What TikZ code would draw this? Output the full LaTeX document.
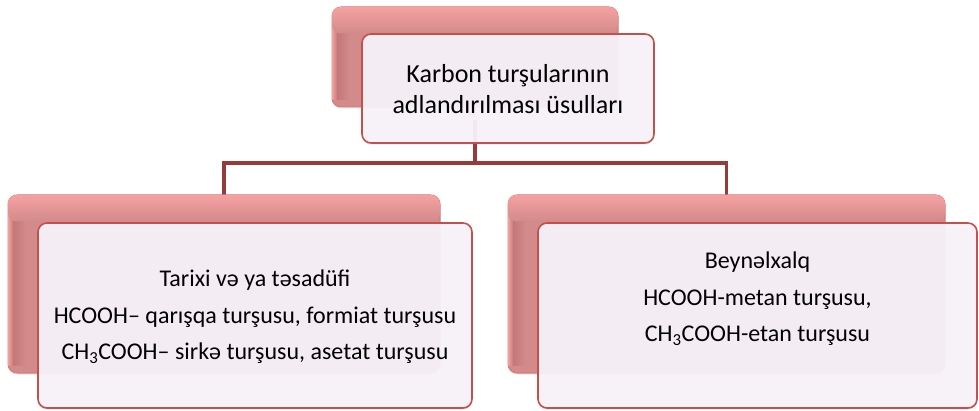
\documentclass[tikz,border=0pt]{standalone}
\usepackage{fontspec}
\setmainfont{Carlito}
\usetikzlibrary{shadows}
\definecolor{linkred}{HTML}{963B3A}
\definecolor{backbase}{HTML}{D28A8A}
\definecolor{backlight}{HTML}{F5A1A1}
\definecolor{backrim}{HTML}{EE9E9E}
\definecolor{backdark}{HTML}{C47878}
\definecolor{backedge}{HTML}{D97B7B}
\definecolor{frontfill}{HTML}{F8F3FA}
\definecolor{frontedge}{HTML}{C4504E}
\tikzset{
  backbox/.style={rectangle, rounded corners=9pt, fill=backbase,
    draw=backedge, line width=1.0pt, inner sep=0pt,
    drop shadow={opacity=0.18, shadow xshift=0pt, shadow yshift=-1.5pt}},
  frontbox/.style={rectangle, rounded corners=9pt, fill=frontfill, fill opacity=0.94,
    draw=frontedge, line width=1.6pt, inner sep=0pt,
    drop shadow={opacity=0.22, shadow xshift=0pt, shadow yshift=-1.5pt}},
  link/.style={draw=linkred, line width=3.6pt},
  toptext/.style={align=center, font=\fontsize{26}{31}\selectfont, text=black},
  subtext/.style={align=center, font=\fontsize{24}{36.5}\selectfont, text=black}
}
% bevel shading inside a back box: light rim on the left, light band along the top
% (unitless shifts so that they follow the downward y axis of the picture)
\newcommand{\bevelfill}[1]{%
  \shade[left color=backrim, right color=backdark]
    ([shift={(1,8)}]#1.north west) rectangle ([shift={(6,-8)}]#1.south west);
  \shade[left color=backdark, right color=backbase]
    ([shift={(6,8)}]#1.north west) rectangle ([shift={(18,-8)}]#1.south west);
  \shade[rounded corners=8pt, top color=backlight, bottom color=backbase]
    ([shift={(0.6,0.6)}]#1.north west) rectangle ([shift={(-0.6,27)}]#1.north east);
}
\begin{document}
\begin{tikzpicture}[x=1pt, y=-1pt]
  \useasboundingbox (0,0) rectangle (979,411);

  % connector tree
  \coordinate (bus) at (475,163);
  \draw[link] (475,120) -- (bus);
  \draw[link] (224,163) -- (726.5,163);
  \draw[link] (224,161.2) -- (224,196);
  \draw[link] (726.5,161.2) -- (726.5,196);

  % top pair of boxes
  \node[backbox, minimum width=286pt, minimum height=100pt] (topback) at (475,57) {};
  \bevelfill{topback}
  \node[frontbox, minimum width=292pt, minimum height=109pt] (topfront) at (508,88.5) {};
  \node[toptext] (toplabel) at (508,89) {Karbon turşularının\\adlandırılması üsulları};

  % left pair of boxes
  \node[backbox, minimum width=432pt, minimum height=178pt] (leftback) at (224,284) {};
  \bevelfill{leftback}
  \node[frontbox, minimum width=434pt, minimum height=185pt] (leftfront) at (255,315.5) {};
  \node[subtext] (leftlabel) at (255,317) {Tarixi və ya təsadüfi\\
    HCOOH– qarışqa turşusu, formiat turşusu\\
    CH\textsubscript{3}COOH– sirkə turşusu, asetat turşusu};

  % right pair of boxes
  \node[backbox, minimum width=437pt, minimum height=178pt] (rightback) at (726.5,284) {};
  \bevelfill{rightback}
  \node[frontbox, minimum width=439pt, minimum height=185pt] (rightfront) at (757.5,315.5) {};
  \node[subtext] (rightlabel) at (757.5,299) {Beynəlxalq\\
    HCOOH-metan turşusu,\\
    CH\textsubscript{3}COOH-etan turşusu};
\end{tikzpicture}
\end{document}
